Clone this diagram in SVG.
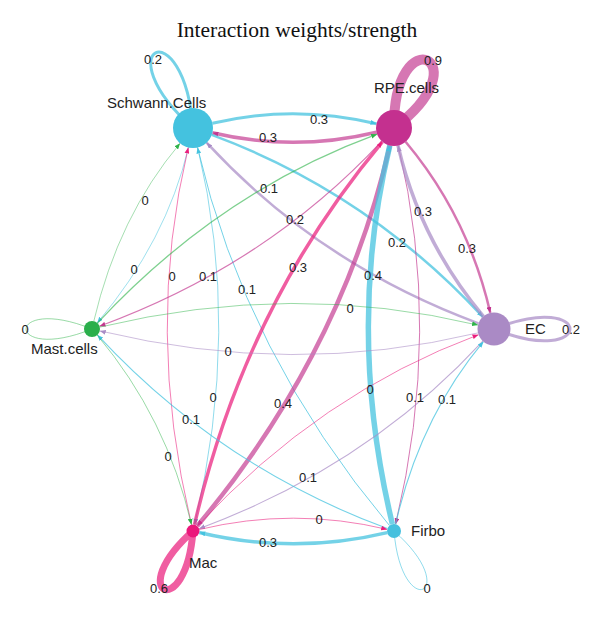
<svg xmlns="http://www.w3.org/2000/svg" width="600" height="617" viewBox="0 0 600 617">
<style>
.e{fill:none;stroke-linecap:butt}
.cy{stroke:#45C3DF;stroke-opacity:.75}
.mg{stroke:#C2368F;stroke-opacity:.68}
.hp{stroke:#EA1F7D;stroke-opacity:.72}
.lv{stroke:#A98CC6;stroke-opacity:.72}
.gr{stroke:#2FB34A;stroke-opacity:.62}
.lbl{font-family:"Liberation Sans",Arial,sans-serif;font-size:13px;fill:#222;text-anchor:middle;dominant-baseline:central}
.nl{font-family:"Liberation Sans",Arial,sans-serif;font-size:15px;fill:#222}
.title{font-family:"Liberation Serif","Times New Roman",serif;font-size:21.5px;fill:#111;text-anchor:middle}
</style>
<defs>
<marker id="a-cy" viewBox="0 0 10 8" refX="10" refY="4" markerWidth="6" markerHeight="5" markerUnits="userSpaceOnUse" orient="auto"><path d="M0,0L10,4L0,8z" fill="#45C3DF"/></marker>
<marker id="a-mg" viewBox="0 0 10 8" refX="10" refY="4" markerWidth="6" markerHeight="5" markerUnits="userSpaceOnUse" orient="auto"><path d="M0,0L10,4L0,8z" fill="#C2368F"/></marker>
<marker id="a-hp" viewBox="0 0 10 8" refX="10" refY="4" markerWidth="6" markerHeight="5" markerUnits="userSpaceOnUse" orient="auto"><path d="M0,0L10,4L0,8z" fill="#EA1F7D"/></marker>
<marker id="a-lv" viewBox="0 0 10 8" refX="10" refY="4" markerWidth="6" markerHeight="5" markerUnits="userSpaceOnUse" orient="auto"><path d="M0,0L10,4L0,8z" fill="#A98CC6"/></marker>
<marker id="a-gr" viewBox="0 0 10 8" refX="10" refY="4" markerWidth="6" markerHeight="5" markerUnits="userSpaceOnUse" orient="auto"><path d="M0,0L10,4L0,8z" fill="#2FB34A"/></marker>
</defs>
<rect width="600" height="617" fill="#fff"/>
<text class="title" x="297" y="37">Interaction weights/strength</text>
<g id="connectors">
<path class="e cy" stroke-width="3" marker-end="url(#a-cy)" d="M212.4,123.3 Q293.5,103.9 376.5,123.8"/>
<path class="e mg" stroke-width="3.5" marker-end="url(#a-mg)" d="M376.5,132.2 Q293.5,152.1 212.4,132.7"/>
<path class="e cy" stroke-width="0.7" marker-end="url(#a-cy)" d="M188.4,147.5 Q166.6,240.6 97.2,322.9"/>
<path class="e gr" stroke-width="0.7" marker-end="url(#a-gr)" d="M93.8,321.2 Q118.4,216.4 180.1,143.3"/>
<path class="e cy" stroke-width="0.8" marker-end="url(#a-cy)" d="M197.7,147.4 Q241.4,329.5 194.5,524.7"/>
<path class="e hp" stroke-width="0.8" marker-end="url(#a-hp)" d="M191.5,524.7 Q144.6,329.5 188.3,147.4"/>
<path class="e cy" stroke-width="1" marker-end="url(#a-cy)" d="M389.5,525.6 Q245.1,353.6 197.5,147.5"/>
<path class="e cy" stroke-width="2.5" marker-end="url(#a-cy)" d="M211.8,134.9 Q367.6,192.4 482.8,316.9"/>
<path class="e lv" stroke-width="2.5" marker-end="url(#a-lv)" d="M478.5,323.3 Q319.4,264.6 206.6,142.7"/>
<path class="e gr" stroke-width="1.3" marker-end="url(#a-gr)" d="M97.4,323.1 Q218.9,192.3 377.1,134.2"/>
<path class="e mg" stroke-width="1.2" marker-end="url(#a-mg)" d="M381.8,141.2 Q267.1,264.7 99.5,326.2"/>
<path class="e hp" stroke-width="3.5" marker-end="url(#a-hp)" d="M194.5,524.7 Q245.1,305.4 382.4,141.8"/>
<path class="e mg" stroke-width="4.5" stroke-opacity=".6" marker-end="url(#a-mg)" d="M389.9,145.5 Q341.9,353.6 197.2,526"/>
<path class="e cy" stroke-width="5.5" marker-end="url(#a-cy)" d="M392.4,524.2 Q345.6,329.5 389.8,145.5"/>
<path class="e mg" stroke-width="1" marker-end="url(#a-mg)" d="M398.2,145.5 Q442.4,329.5 395.6,524.2"/>
<path class="e lv" stroke-width="3.5" marker-end="url(#a-lv)" d="M483.4,316.4 Q419.9,240.5 398,145.5"/>
<path class="e mg" stroke-width="2.5" marker-end="url(#a-mg)" d="M405.6,141.8 Q468.1,216.5 490.3,312.9"/>
<path class="e gr" stroke-width="0.8" marker-end="url(#a-gr)" d="M99.8,327.1 Q293,280.8 478,325.1"/>
<path class="e lv" stroke-width="0.8" marker-end="url(#a-lv)" d="M478,332.9 Q293,377.2 99.8,330.9"/>
<path class="e hp" stroke-width="0.8" marker-end="url(#a-hp)" d="M197.4,526.2 Q319.3,393.9 478.5,334.7"/>
<path class="e lv" stroke-width="1.1" marker-end="url(#a-lv)" d="M482.8,341.1 Q367.7,466.1 199.1,528.7"/>
<path class="e cy" stroke-width="1.1" marker-end="url(#a-cy)" d="M395.6,524.2 Q419.8,418 483.4,341.7"/>
<path class="e cy" stroke-width="1.1" marker-end="url(#a-cy)" d="M387.4,528.6 Q218.8,466.2 97.4,334.9"/>
<path class="e gr" stroke-width="0.8" marker-end="url(#a-gr)" d="M97.2,335.1 Q166.7,417.9 191.5,524.7"/>
<path class="e hp" stroke-width="0.8" marker-end="url(#a-hp)" d="M199.3,529.5 Q293.5,506.9 387.2,529.4"/>
<path class="e cy" stroke-width="3.5" marker-end="url(#a-cy)" d="M387.2,532.6 Q293.5,555.1 199.3,532.5"/>
<path class="e cy" stroke-width="3" d="M193,128 C183.7,7.6 102.7,47.9 193,128"/>
<path class="e mg" stroke-width="10" stroke-opacity=".55" d="M394,128 C484,60 393,16 394,128"/>
<path class="e lv" stroke-width="3" d="M494,329 C595.3,369.9 595.3,288.1 494,329"/>
<path class="e gr" stroke-width="0.8" d="M92,329 C4,293.4 4,364.6 92,329"/>
<path class="e hp" stroke-width="7" d="M193,531 C123.1,593 185.8,624.2 193,531"/>
<path class="e cy" stroke-width="0.8" d="M394,531 C401.6,624.1 464.2,592.7 394,531"/>
</g>
<g id="edge-labels">
<text class="lbl" x="319" y="119">0.3</text>
<text class="lbl" x="268" y="137">0.3</text>
<text class="lbl" x="269" y="188">0.1</text>
<text class="lbl" x="295" y="219">0.2</text>
<text class="lbl" x="423" y="211">0.3</text>
<text class="lbl" x="467" y="248">0.3</text>
<text class="lbl" x="397" y="242">0.2</text>
<text class="lbl" x="373" y="275">0.4</text>
<text class="lbl" x="145" y="200">0</text>
<text class="lbl" x="134" y="269">0</text>
<text class="lbl" x="172" y="276">0</text>
<text class="lbl" x="208" y="276">0.1</text>
<text class="lbl" x="247" y="289">0.1</text>
<text class="lbl" x="298" y="267">0.3</text>
<text class="lbl" x="350" y="308">0</text>
<text class="lbl" x="228" y="351">0</text>
<text class="lbl" x="370" y="389">0</text>
<text class="lbl" x="415" y="397">0.1</text>
<text class="lbl" x="447" y="399">0.1</text>
<text class="lbl" x="283" y="403">0.4</text>
<text class="lbl" x="213" y="397">0</text>
<text class="lbl" x="191" y="419">0.1</text>
<text class="lbl" x="168" y="456">0</text>
<text class="lbl" x="308" y="477">0.1</text>
<text class="lbl" x="319" y="519">0</text>
<text class="lbl" x="268" y="542">0.3</text>
<text class="lbl" x="153" y="59">0.2</text>
<text class="lbl" x="433" y="60">0.9</text>
<text class="lbl" x="571" y="329">0.2</text>
<text class="lbl" x="25" y="329">0</text>
<text class="lbl" x="159" y="588">0.6</text>
<text class="lbl" x="427" y="588">0</text>
</g>
<g id="node-schwann"><circle cx="193" cy="128" r="20" fill="#44C2DF"/><text class="nl" x="107" y="108">Schwann.Cells</text></g>
<g id="node-rpe"><circle cx="394" cy="128" r="18" fill="#C4308F"/><text class="nl" x="374" y="93">RPE.cells</text></g>
<g id="node-ec"><circle cx="494" cy="329" r="16.5" fill="#AA8AC5"/><text class="nl" x="525" y="334">EC</text></g>
<g id="node-mast"><circle cx="92" cy="329" r="8" fill="#2AAF4B"/><text class="nl" x="31" y="354">Mast.cells</text></g>
<g id="node-mac"><circle cx="193" cy="531" r="6.5" fill="#EB177B"/><text class="nl" x="189" y="568">Mac</text></g>
<g id="node-firbo"><circle cx="394" cy="531" r="7" fill="#46C0DE"/><text class="nl" x="411" y="536">Firbo</text></g>
</svg>
